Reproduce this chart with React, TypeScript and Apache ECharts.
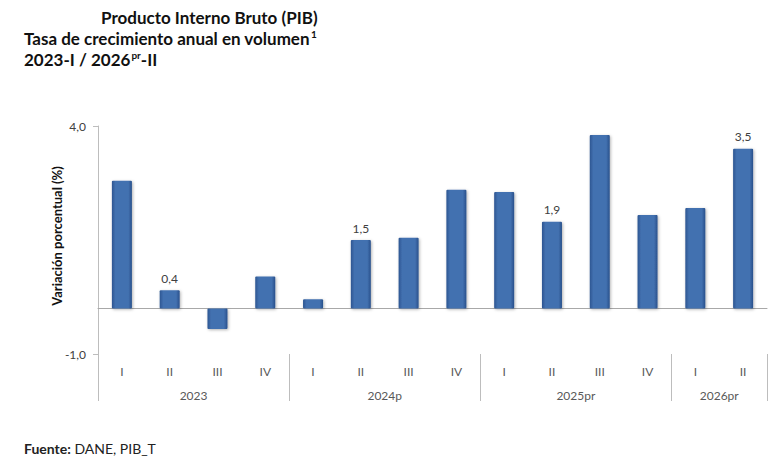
import React, { useEffect, useRef } from 'react';
import * as echarts from 'echarts';

const quarters = ['I', 'II', 'III', 'IV', 'I', 'II', 'III', 'IV', 'I', 'II', 'III', 'IV', 'I', 'II'];
const values = [2.8, 0.4, -0.45, 0.7, 0.2, 1.5, 1.55, 2.6, 2.55, 1.9, 3.8, 2.05, 2.2, 3.5];
const labeledIdx = [1, 5, 9, 13];
const years = ['2023', '2024p', '2025pr', '2026pr'];
const quartersPerYear = [4, 4, 4, 2];
const yTicks = [-1, 4];

const FONT = 'Lato, "Noto Sans", sans-serif';
const fmt = (v: number) => v.toFixed(1).replace('.', ',');

export default function App() {
  const ref = useRef<HTMLDivElement>(null);
  useEffect(() => {
    document.body.style.margin = '0';
    const chart = echarts.init(ref.current!, null, { renderer: 'svg' });
    const bounds: number[] = [0];
    quartersPerYear.forEach((n) => bounds.push(bounds[bounds.length - 1] + n));
    const centers = quartersPerYear.map((n, i) => bounds[i] + n / 2);
    const total = bounds[bounds.length - 1];

    const barColor = new echarts.graphic.LinearGradient(0, 0, 1, 0, [
      { offset: 0, color: '#2C5591' },
      { offset: 0.18, color: '#4371B0' },
      { offset: 0.82, color: '#4371B0' },
      { offset: 1, color: '#28508B' },
    ]);

    const sup = { fontSize: 10, fontWeight: 'bold', padding: [0, 0, 8, 1], color: '#111', fontFamily: FONT };
    const titleStyle = { fontFamily: FONT, fontWeight: 'bold', fontSize: 17, color: '#111', rich: { sup } };

    const option: any = {
      animation: false,
      backgroundColor: '#fff',
      textStyle: { fontFamily: FONT },
      title: [
        { text: 'Producto Interno Bruto (PIB)', left: 101, top: 9, padding: 0, textStyle: titleStyle },
        { text: 'Tasa de crecimiento anual en volumen{sup|1}', left: 24, top: 29, padding: 0, textStyle: titleStyle },
        { text: '2023-I / 2026{sup|pr}-II', left: 24, top: 50, padding: 0, textStyle: titleStyle },
        {
          text: '{b|Fuente:} DANE, PIB_T',
          left: 24,
          top: 441,
          padding: 0,
          textStyle: {
            fontFamily: FONT,
            fontSize: 14,
            fontWeight: 'normal',
            color: '#222',
            rich: { b: { fontWeight: 'bold', fontSize: 14, color: '#222', fontFamily: FONT } },
          },
        },
      ],
      grid: { left: 98, right: 1, top: 126, bottom: 104 },
      xAxis: [
        {
          type: 'category',
          data: quarters,
          position: 'bottom',
          axisLine: { show: true, onZero: true, lineStyle: { color: '#A8A8A8', width: 1 } },
          axisTick: { show: false },
          axisLabel: { show: false },
        },
        {
          type: 'category',
          data: quarters,
          position: 'bottom',
          axisLine: { show: false, onZero: false },
          axisTick: { show: false },
          axisLabel: { show: true, margin: 11, fontSize: 12, color: '#595959', fontFamily: FONT, interval: 0 },
        },
        {
          type: 'value',
          min: 0,
          max: total,
          position: 'bottom',
          axisLine: { show: false, onZero: false },
          splitLine: { show: false },
          axisTick: {
            show: true,
            customValues: bounds,
            length: 47,
            lineStyle: { color: '#BDBDBD', width: 1 },
          },
          axisLabel: {
            show: true,
            customValues: centers,
            margin: 35,
            fontSize: 12,
            color: '#595959',
            fontFamily: FONT,
            formatter: (v: number) => {
              const i = centers.indexOf(v);
              return i >= 0 ? years[i] : '';
            },
          },
        },
      ],
      yAxis: {
        type: 'value',
        min: -1,
        max: 4,
        name: 'Variación porcentual (%)',
        nameLocation: 'middle',
        nameGap: 35,
        nameMoveOverlap: false,
        nameTextStyle: { fontFamily: FONT, fontWeight: 'bold', fontSize: 13, color: '#111', padding: [0, 0, 0, 8] },
        axisLine: { show: true, lineStyle: { color: '#BDBDBD', width: 1 } },
        axisTick: { show: true, customValues: yTicks, length: 5, lineStyle: { color: '#BDBDBD' } },
        splitLine: { show: false },
        axisLabel: {
          customValues: yTicks,
          margin: 12,
          fontSize: 12,
          color: '#404040',
          fontFamily: FONT,
          formatter: (v: number) => fmt(v),
        },
      },
      series: [
        {
          type: 'bar',
          xAxisIndex: 0,
          barWidth: 20,
          data: values.map((v, i) => ({
            value: v,
            label: {
              show: labeledIdx.includes(i),
              position: 'top',
              distance: 6,
              formatter: () => fmt(v),
              fontSize: 12,
              color: '#404040',
              fontFamily: FONT,
            },
          })),
          itemStyle: {
            color: barColor,
            borderRadius: 1,
            shadowColor: 'rgba(0,0,0,0.3)',
            shadowBlur: 3,
            shadowOffsetX: 1,
            shadowOffsetY: 1,
          },
        },
      ],
    };
    chart.setOption(option);
    return () => chart.dispose();
  }, []);
  return (
    <div
      ref={ref}
      style={{ position: 'fixed', left: 0, top: 0, width: 768, height: 458, background: '#fff' }}
    />
  );
}
